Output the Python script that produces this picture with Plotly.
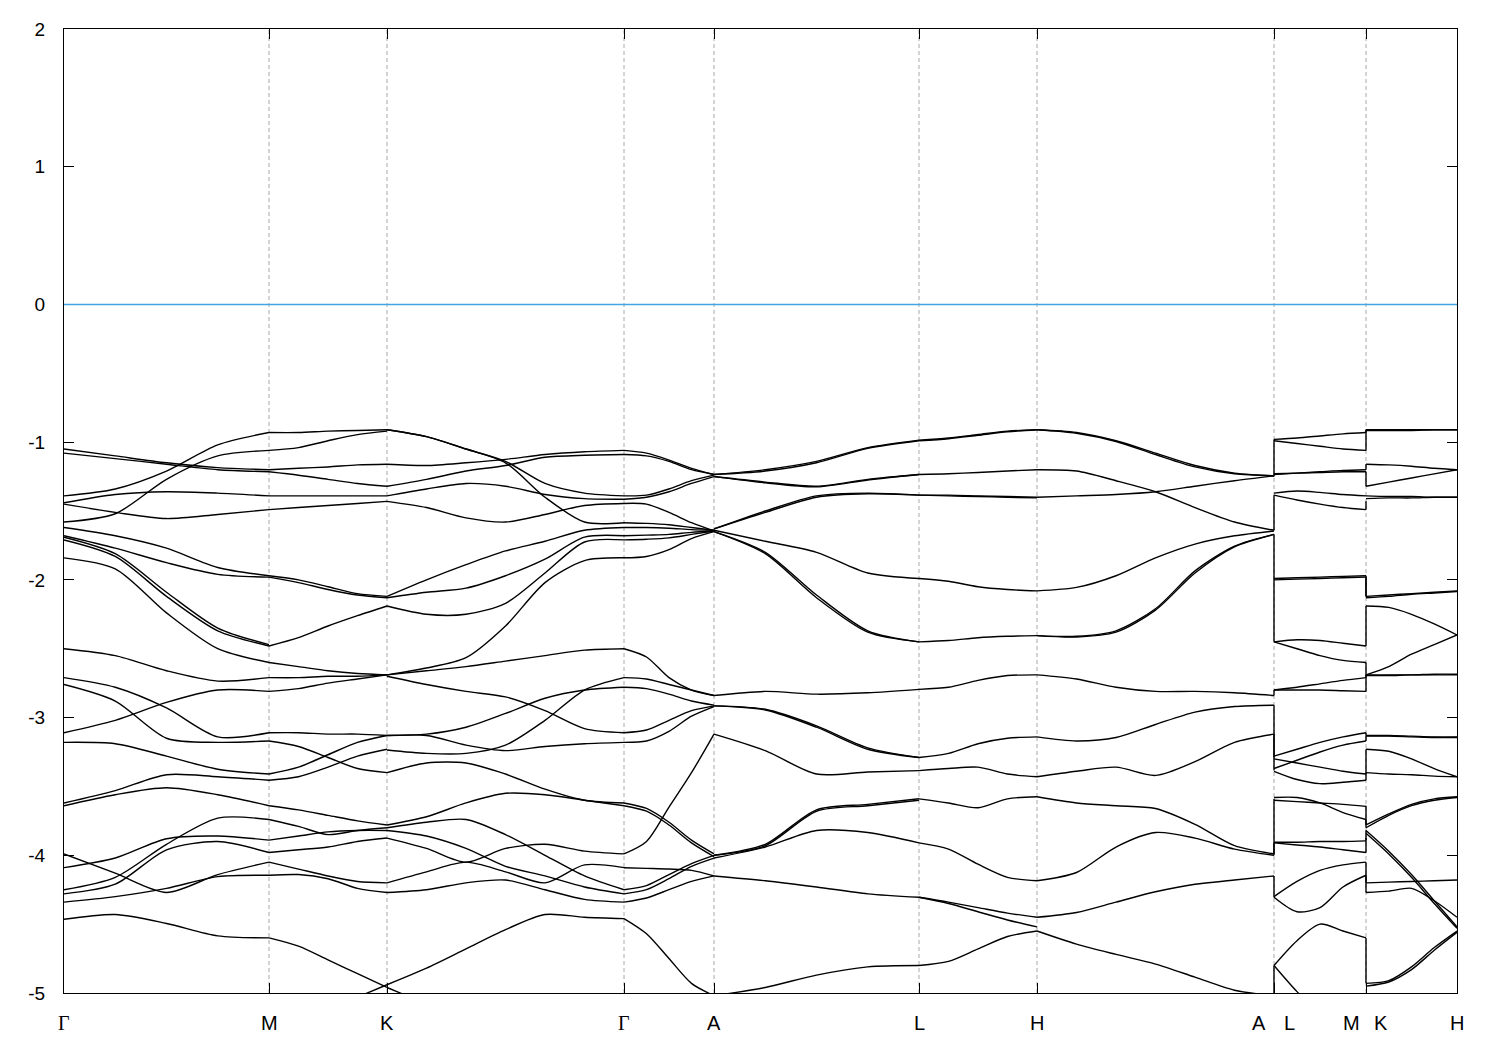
import plotly.graph_objects as go

# ---------------- data ----------------
# high-symmetry points along the path (k, path length units)
hs_k = [0.0, 2.05, 3.23, 5.60, 6.50, 8.55, 9.73, 12.10, 13.02, 13.93]
label_text = ["Γ", "M", "K", "Γ", "A", "L", "H", "A", "L", "M", "K", "H"]
label_k = [0.0, 2.05, 3.23, 5.60, 6.50, 8.55, 9.73, 11.95, 12.25, 12.87, 13.17, 13.93]
y_ticks = [2, 1, 0, -1, -2, -3, -4, -5]

# band energies (eV) sampled at equally spaced points of each segment
seg_GM = [
    [-1.39, -1.34, -1.21, -1.02, -0.93],
    [-1.58, -1.52, -1.27, -1.10, -1.06],
    [-1.05, -1.10, -1.15, -1.185, -1.20],
    [-1.08, -1.12, -1.16, -1.20, -1.215],
    [-1.44, -1.38, -1.36, -1.37, -1.39],
    [-1.45, -1.51, -1.555, -1.525, -1.49],
    [-1.62, -1.68, -1.77, -1.91, -1.97],
    [-1.68, -1.77, -1.875, -1.96, -1.98],
    [-1.71, -1.83, -2.12, -2.37, -2.48],
    [-1.69, -1.81, -2.09, -2.35, -2.47],
    [-1.84, -1.92, -2.24, -2.50, -2.60],
    [-2.50, -2.55, -2.66, -2.735, -2.71],
    [-2.71, -2.78, -2.93, -3.14, -3.11],
    [-2.76, -2.88, -3.15, -3.18, -3.17],
    [-3.11, -3.02, -2.89, -2.80, -2.81],
    [-3.18, -3.19, -3.28, -3.375, -3.41],
    [-3.62, -3.53, -3.415, -3.43, -3.455],
    [-3.64, -3.56, -3.51, -3.56, -3.64],
    [-4.09, -4.02, -3.88, -3.86, -3.89],
    [-3.99, -4.13, -4.27, -4.14, -4.05],
    [-4.25, -4.16, -3.92, -3.73, -3.74],
    [-4.28, -4.21, -3.96, -3.90, -3.98],
    [-4.34, -4.30, -4.24, -4.155, -4.145],
    [-4.465, -4.43, -4.495, -4.585, -4.60],
]
seg_MK = [
    [-0.93, -0.93, -0.92, -0.915, -0.91],
    [-1.06, -1.04, -0.99, -0.945, -0.92],
    [-1.20, -1.19, -1.18, -1.165, -1.16],
    [-1.215, -1.24, -1.27, -1.30, -1.32],
    [-1.39, -1.39, -1.39, -1.39, -1.39],
    [-1.49, -1.475, -1.46, -1.445, -1.43],
    [-1.97, -2.00, -2.05, -2.10, -2.12],
    [-1.98, -2.02, -2.07, -2.11, -2.13],
    [-2.48, -2.42, -2.335, -2.26, -2.19],
    [-2.60, -2.63, -2.66, -2.68, -2.69],
    [-2.71, -2.71, -2.70, -2.70, -2.69],
    [-2.81, -2.79, -2.75, -2.72, -2.69],
    [-3.11, -3.11, -3.12, -3.12, -3.13],
    [-3.41, -3.36, -3.27, -3.18, -3.13],
    [-3.17, -3.21, -3.29, -3.37, -3.40],
    [-3.455, -3.43, -3.36, -3.28, -3.23],
    [-3.64, -3.67, -3.71, -3.75, -3.78],
    [-3.74, -3.79, -3.85, -3.82, -3.80],
    [-3.89, -3.86, -3.83, -3.82, -3.82],
    [-3.98, -3.96, -3.94, -3.90, -3.875],
    [-4.05, -4.10, -4.15, -4.19, -4.20],
    [-4.145, -4.14, -4.17, -4.24, -4.27],
    [-4.60, -4.66, -4.76, -4.86, -4.96],
    [None, None, -5.12, -5.03, -4.94],
]
seg_KG = [
    [-0.91, -0.96, -1.05, -1.14, -1.30, -1.37, -1.39],
    [-0.91, -0.96, -1.05, -1.15, -1.40, -1.58, -1.585],
    [-1.16, -1.17, -1.15, -1.125, -1.09, -1.07, -1.06],
    [-1.32, -1.27, -1.21, -1.17, -1.11, -1.095, -1.09],
    [-1.39, -1.34, -1.30, -1.32, -1.38, -1.41, -1.415],
    [-1.43, -1.475, -1.55, -1.58, -1.525, -1.46, -1.445],
    [-2.12, -2.00, -1.89, -1.79, -1.72, -1.64, -1.62],
    [-2.13, -2.09, -2.06, -1.97, -1.85, -1.69, -1.68],
    [-2.19, -2.25, -2.25, -2.17, -1.95, -1.725, -1.71],
    [-2.69, -2.64, -2.565, -2.335, -2.02, -1.86, -1.84],
    [-2.69, -2.66, -2.63, -2.59, -2.55, -2.51, -2.50],
    [-2.70, -2.76, -2.81, -2.85, -2.95, -3.08, -3.11],
    [-3.235, -3.26, -3.26, -3.20, -3.02, -2.80, -2.71],
    [-3.13, -3.12, -3.07, -2.97, -2.86, -2.80, -2.78],
    [-3.13, -3.13, -3.20, -3.24, -3.21, -3.19, -3.18],
    [-3.40, -3.33, -3.33, -3.41, -3.52, -3.60, -3.62],
    [-3.78, -3.72, -3.62, -3.55, -3.56, -3.60, -3.64],
    [-3.80, -3.76, -3.74, -3.85, -4.00, -4.15, -4.25],
    [-3.82, -3.86, -3.95, -4.08, -4.15, -4.23, -4.28],
    [-3.875, -3.95, -4.05, -3.95, -3.92, -3.97, -3.99],
    [-4.20, -4.12, -4.05, -4.12, -4.20, -4.07, -4.09],
    [-4.27, -4.25, -4.20, -4.18, -4.25, -4.32, -4.34],
    [-4.94, -4.82, -4.68, -4.54, -4.43, -4.45, -4.46],
    [-4.96, -5.08, -5.2, None, None, None, None],
]
seg_GA = [
    [-1.06, -1.08, -1.13, -1.19, -1.235],
    [-1.09, -1.10, -1.14, -1.20, -1.235],
    [-1.39, -1.385, -1.34, -1.28, -1.24],
    [-1.415, -1.40, -1.36, -1.30, -1.25],
    [-1.445, -1.45, -1.51, -1.585, -1.645],
    [-1.585, -1.59, -1.60, -1.62, -1.64],
    [-1.62, -1.62, -1.625, -1.635, -1.64],
    [-1.68, -1.675, -1.67, -1.655, -1.645],
    [-1.71, -1.705, -1.695, -1.67, -1.645],
    [-1.84, -1.83, -1.78, -1.70, -1.65],
    [-2.50, -2.56, -2.71, -2.80, -2.84],
    [-2.71, -2.72, -2.76, -2.80, -2.84],
    [-2.78, -2.79, -2.83, -2.88, -2.91],
    [-3.11, -3.09, -3.02, -2.95, -2.915],
    [-3.18, -3.17, -3.10, -2.99, -2.92],
    [-3.62, -3.66, -3.76, -3.89, -3.99],
    [-3.64, -3.68, -3.78, -3.91, -4.01],
    [-3.99, -3.90, -3.65, -3.40, -3.12],
    [-4.09, -4.095, -4.10, -4.11, -4.15],
    [-4.25, -4.22, -4.14, -4.06, -4.00],
    [-4.28, -4.25, -4.17, -4.08, -4.02],
    [-4.34, -4.31, -4.25, -4.19, -4.15],
    [-4.46, -4.57, -4.75, -4.93, -5.02],
]
seg_AL = [
    [-1.235, -1.20, -1.14, -1.04, -0.985],
    [-1.235, -1.21, -1.15, -1.045, -0.99],
    [-1.25, -1.29, -1.32, -1.27, -1.235],
    [-1.25, -1.295, -1.325, -1.275, -1.235],
    [-1.63, -1.50, -1.39, -1.37, -1.385],
    [-1.63, -1.51, -1.40, -1.375, -1.385],
    [-1.64, -1.72, -1.80, -1.95, -1.99],
    [-1.65, -1.81, -2.13, -2.38, -2.45],
    [-1.65, -1.80, -2.11, -2.37, -2.45],
    [-2.84, -2.81, -2.83, -2.82, -2.795],
    [-2.915, -2.94, -3.06, -3.22, -3.29],
    [-2.915, -2.945, -3.07, -3.23, -3.29],
    [-3.12, -3.24, -3.41, -3.395, -3.385],
    [-4.00, -3.92, -3.67, -3.63, -3.59],
    [-4.00, -3.93, -3.68, -3.64, -3.60],
    [-4.02, -3.94, -3.82, -3.835, -3.91],
    [-4.15, -4.185, -4.23, -4.28, -4.305],
    [-5.02, -4.96, -4.87, -4.81, -4.80],
]
seg_LH = [
    [-0.985, -0.97, -0.945, -0.92, -0.91],
    [-0.99, -0.975, -0.95, -0.925, -0.91],
    [-1.235, -1.23, -1.22, -1.21, -1.20],
    [-1.385, -1.385, -1.39, -1.395, -1.40],
    [-1.385, -1.39, -1.395, -1.40, -1.405],
    [-1.99, -2.01, -2.05, -2.07, -2.08],
    [-2.45, -2.44, -2.42, -2.41, -2.405],
    [-2.795, -2.78, -2.73, -2.695, -2.69],
    [-3.29, -3.26, -3.19, -3.15, -3.14],
    [-3.385, -3.37, -3.36, -3.41, -3.43],
    [-3.59, -3.62, -3.655, -3.59, -3.575],
    [-3.91, -3.955, -4.065, -4.16, -4.185],
    [-4.305, -4.34, -4.38, -4.42, -4.45],
    [-4.305, -4.35, -4.41, -4.47, -4.52],
    [-4.80, -4.77, -4.68, -4.59, -4.55],
]
seg_HA = [
    [-0.91, -0.93, -0.99, -1.08, -1.17, -1.225, -1.245],
    [-0.91, -0.935, -0.995, -1.09, -1.18, -1.23, -1.245],
    [-1.20, -1.21, -1.28, -1.36, -1.475, -1.58, -1.64],
    [-1.40, -1.39, -1.38, -1.36, -1.32, -1.28, -1.245],
    [-2.08, -2.055, -1.97, -1.84, -1.74, -1.68, -1.645],
    [-2.405, -2.41, -2.37, -2.21, -1.935, -1.755, -1.67],
    [-2.405, -2.415, -2.38, -2.22, -1.95, -1.76, -1.67],
    [-2.69, -2.72, -2.78, -2.81, -2.81, -2.82, -2.84],
    [-3.14, -3.17, -3.145, -3.05, -2.96, -2.92, -2.91],
    [-3.43, -3.39, -3.36, -3.42, -3.32, -3.18, -3.12],
    [-3.575, -3.62, -3.64, -3.66, -3.775, -3.93, -3.99],
    [-4.185, -4.125, -3.94, -3.835, -3.875, -3.955, -4.00],
    [-4.45, -4.415, -4.34, -4.265, -4.21, -4.18, -4.15],
    [-4.55, -4.645, -4.72, -4.79, -4.885, -4.98, -5.02],
]
seg_LM = [
    [-0.98, -0.97, -0.955, -0.94, -0.93],
    [-0.99, -1.01, -1.03, -1.05, -1.06],
    [-1.235, -1.225, -1.215, -1.205, -1.20],
    [-1.23, -1.225, -1.22, -1.215, -1.215],
    [-1.37, -1.355, -1.365, -1.38, -1.39],
    [-1.385, -1.42, -1.45, -1.475, -1.49],
    [-1.99, -1.985, -1.98, -1.975, -1.97],
    [-2.00, -1.995, -1.99, -1.985, -1.98],
    [-2.45, -2.435, -2.44, -2.46, -2.48],
    [-2.45, -2.50, -2.55, -2.585, -2.60],
    [-2.80, -2.78, -2.755, -2.73, -2.71],
    [-2.80, -2.80, -2.80, -2.805, -2.81],
    [-3.28, -3.23, -3.18, -3.14, -3.11],
    [-3.37, -3.31, -3.25, -3.20, -3.17],
    [-3.30, -3.33, -3.36, -3.39, -3.41],
    [-3.39, -3.45, -3.48, -3.47, -3.455],
    [-3.58, -3.58, -3.62, -3.69, -3.74],
    [-3.60, -3.61, -3.62, -3.63, -3.645],
    [-3.905, -3.905, -3.90, -3.90, -3.895],
    [-3.91, -3.925, -3.94, -3.96, -3.98],
    [-4.30, -4.19, -4.11, -4.07, -4.05],
    [-4.305, -4.41, -4.38, -4.23, -4.145],
    [-4.80, -4.62, -4.50, -4.55, -4.60],
    [-4.80, -4.99, -5.15, None, None],
]
seg_KH = [
    [-0.91, -0.91, -0.91, -0.91, -0.91],
    [-0.915, -0.915, -0.915, -0.91, -0.91],
    [-1.16, -1.165, -1.175, -1.19, -1.20],
    [-1.32, -1.29, -1.26, -1.23, -1.20],
    [-1.39, -1.395, -1.395, -1.40, -1.40],
    [-1.41, -1.405, -1.405, -1.40, -1.40],
    [-2.12, -2.11, -2.10, -2.09, -2.08],
    [-2.13, -2.12, -2.105, -2.095, -2.085],
    [-2.19, -2.20, -2.25, -2.32, -2.40],
    [-2.69, -2.63, -2.54, -2.47, -2.40],
    [-2.69, -2.69, -2.69, -2.685, -2.685],
    [-2.695, -2.695, -2.69, -2.69, -2.69],
    [-3.13, -3.13, -3.135, -3.14, -3.14],
    [-3.135, -3.135, -3.14, -3.145, -3.145],
    [-3.23, -3.245, -3.30, -3.37, -3.43],
    [-3.40, -3.41, -3.415, -3.425, -3.43],
    [-3.78, -3.70, -3.63, -3.59, -3.575],
    [-3.80, -3.71, -3.64, -3.60, -3.58],
    [-3.82, -3.97, -4.14, -4.33, -4.52],
    [-3.84, -3.99, -4.16, -4.35, -4.53],
    [-4.20, -4.195, -4.19, -4.185, -4.18],
    [-4.27, -4.26, -4.24, -4.33, -4.45],
    [-4.93, -4.91, -4.81, -4.67, -4.55],
    [-4.95, -4.92, -4.83, -4.69, -4.56],
]

# discontinuities: energies joined at the A|L and M|K breaks
AL_from = [-1.24, -1.25, -1.64, -1.67, -2.84, -2.91, -3.12, -3.99, -4.00, -4.15, -5.02]
AL_to = [-0.98, -1.235, -1.385, -2.45, -2.80, -3.29, -3.385, -3.59, -3.91, -4.305, -4.80]
MK_from = [-0.93, -1.06, -1.20, -1.215, -1.39, -1.49, -1.97, -1.98, -2.48, -2.60, -2.71, -2.81,
           -3.11, -3.17, -3.41, -3.455, -3.64, -3.74, -3.89, -3.98, -4.05, -4.145, -4.60]
MK_to = [-0.91, -0.91, -1.16, -1.32, -1.39, -1.43, -2.12, -2.12, -2.19, -2.69, -2.69, -2.69,
         -3.13, -3.13, -3.23, -3.40, -3.78, -3.80, -3.82, -3.875, -4.20, -4.27, -4.93]

segments = [
    (0, 1, seg_GM), (1, 2, seg_MK), (2, 3, seg_KG), (3, 4, seg_GA), (4, 5, seg_AL),
    (5, 6, seg_LH), (6, 7, seg_HA), (7, 8, seg_LM), (8, 9, seg_KH),
]

# ---------------- figure ----------------
fig = go.Figure()

bx, by = [], []
for i0, i1, bands in segments:
    k0, k1 = hs_k[i0], hs_k[i1]
    for band in bands:
        n = len(band)
        for j, e in enumerate(band):
            bx.append(k0 + (k1 - k0) * j / (n - 1) if e is not None else None)
            by.append(e)
        bx.append(None)
        by.append(None)

fig.add_trace(go.Scatter(x=bx, y=by, mode="lines",
                         line=dict(color="black", width=1.4, shape="spline", smoothing=0.8),
                         connectgaps=False, hoverinfo="skip", showlegend=False))

jx, jy = [], []
for a, b in zip(AL_from, AL_to):
    jx += [hs_k[7], hs_k[7], None]
    jy += [a, b, None]
for a, b in zip(MK_from, MK_to):
    jx += [hs_k[8], hs_k[8], None]
    jy += [a, b, None]
fig.add_trace(go.Scatter(x=jx, y=jy, mode="lines", line=dict(color="black", width=1.4),
                         hoverinfo="skip", showlegend=False))

shapes = []
for k in hs_k[1:-1]:
    shapes.append(dict(type="line", xref="x", yref="y", x0=k, x1=k, y0=-5, y1=2,
                       line=dict(color="#a8a8a8", width=1, dash="4px,3px"), layer="below"))
shapes.append(dict(type="line", xref="x", yref="y", x0=hs_k[0], x1=hs_k[-1], y0=0, y1=0,
                   line=dict(color="#40A6E2", width=1.6), layer="above"))

annotations = []
for t, k in zip(label_text, label_k):
    fam = "Liberation Serif" if t == "Γ" else "Liberation Sans"
    annotations.append(dict(x=k, y=0, xref="x", yref="paper", text=t, showarrow=False,
                            yanchor="top", yshift=-17, font=dict(family=fam, size=20, color="black")))

fig.update_layout(
    width=1500, height=1050,
    margin=dict(l=56, r=51, t=21, b=65),
    paper_bgcolor="white", plot_bgcolor="white",
    shapes=shapes, annotations=annotations,
    font=dict(family="Liberation Sans", size=19, color="black"),
)
fig.update_xaxes(range=[hs_k[0], hs_k[-1]], showgrid=False, zeroline=False,
                 showline=True, linecolor="black", linewidth=1.2, mirror="ticks",
                 tickmode="array", tickvals=hs_k, ticktext=[""] * len(hs_k),
                 ticks="inside", ticklen=10, tickcolor="black")
fig.update_yaxes(range=[-5, 2], showgrid=False, zeroline=False,
                 showline=True, linecolor="black", linewidth=1.2, mirror="ticks",
                 tickmode="array", tickvals=y_ticks, ticktext=[str(v) for v in y_ticks],
                 ticks="inside", ticklen=10, tickcolor="black", ticklabelstandoff=14,
                 tickfont=dict(family="Liberation Sans", size=19, color="black"))

fig.write_html("out.html")
